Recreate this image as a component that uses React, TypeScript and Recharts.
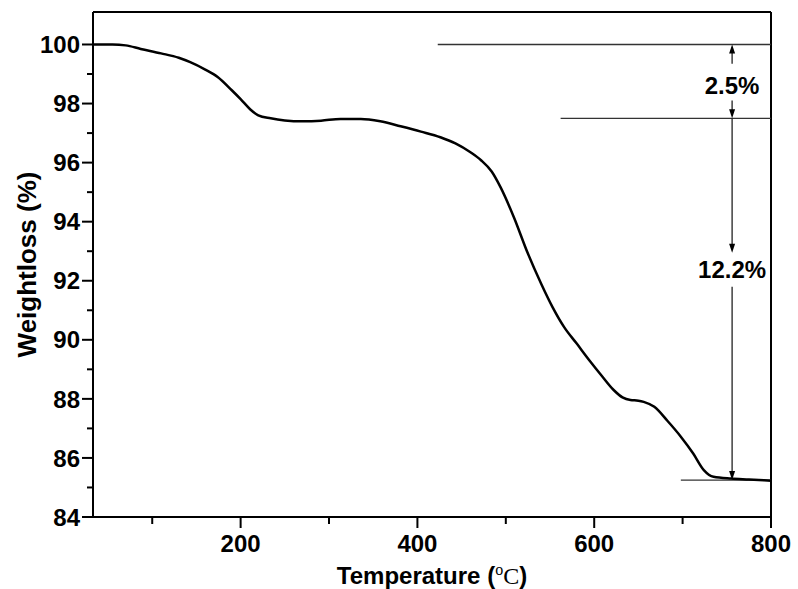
import React from "react";
import {
  LineChart,
  Line,
  XAxis,
  YAxis,
  ReferenceLine,
  ReferenceDot,
} from "recharts";

// TGA curve
const temperature = [
  34, 55, 70, 87, 110, 130, 143, 160, 174, 190, 200, 211, 220, 234, 250, 270,
  291, 313, 336, 358, 381, 404, 426, 443, 460, 472, 484, 494, 509, 525, 540,
  553, 566, 580, 596, 608, 622, 632, 641, 650, 656, 668, 683, 698, 712, 724,
  735, 755, 775, 800,
];
const weightloss = [
  100.0, 100.0, 99.97, 99.85, 99.7, 99.55, 99.4, 99.15, 98.9, 98.45, 98.15,
  97.8, 97.6, 97.5, 97.43, 97.4, 97.42, 97.48, 97.48, 97.4, 97.23, 97.05,
  96.86, 96.65, 96.35, 96.08, 95.7, 95.17, 94.16, 92.92, 91.9, 91.1, 90.43,
  89.88, 89.25, 88.8, 88.3, 88.05, 87.96, 87.94, 87.9, 87.73, 87.25, 86.72,
  86.15, 85.59, 85.36, 85.3, 85.27, 85.23,
];

const xTicks = [100, 200, 300, 400, 500, 600, 700, 800];
const yTicks = [84, 85, 86, 87, 88, 89, 90, 91, 92, 93, 94, 95, 96, 97, 98, 99, 100];

// annotation: step levels, where each guide line starts, and arrow column
const stepLevels = [100, 97.5, 85.25];
const stepLineStart = [423, 562, 698];
const arrowX = 756;
const arrowSegments = [
  [99.35, 100],
  [98.1, 97.5],
  [97.5, 92.95],
  [91.8, 85.25],
];
const stepLabels = ["2.5%", "12.2%"];
const stepLabelY = [98.6, 92.4];

const data = temperature.map((t, i) => ({ t, w: weightloss[i] }));

const FONT = "'Liberation Sans', Arial, sans-serif";

const XTick = (props: any) => {
  const { x, y, payload } = props;
  const major = payload.value % 200 === 0;
  return (
    <g>
      <line x1={x} y1={y} x2={x} y2={y + (major ? 11 : 7)} stroke="#000" strokeWidth={2} />
      {major && (
        <text x={x} y={y + 35} textAnchor="middle" fontFamily={FONT} fontWeight="bold" fontSize={24} fill="#000">
          {payload.value}
        </text>
      )}
    </g>
  );
};

const YTick = (props: any) => {
  const { x, y, payload } = props;
  const major = payload.value % 2 === 0;
  return (
    <g>
      <line x1={x} y1={y} x2={x - (major ? 11 : 6)} y2={y} stroke="#000" strokeWidth={2} />
      {major && (
        <text x={x - 13} y={y} dy="0.36em" textAnchor="end" fontFamily={FONT} fontWeight="bold" fontSize={24} fill="#000">
          {payload.value}
        </text>
      )}
    </g>
  );
};

const Arrow = (props: any) => {
  const { x1, y1, x2, y2 } = props;
  const dir = y2 > y1 ? 1 : -1;
  return (
    <g>
      <line x1={x1} y1={y1} x2={x2} y2={y2 - dir * 6} stroke="#222" strokeWidth={1.3} />
      <polygon
        points={`${x2},${y2} ${x2 - 3},${y2 - dir * 9} ${x2 + 3},${y2 - dir * 9}`}
        fill="#000"
      />
    </g>
  );
};

export default function App() {
  return (
    <div style={{ position: "absolute", left: 0, top: 0, background: "#fff" }}>
      <LineChart width={798} height={589} data={data} margin={{ top: 12, right: 27, left: 0, bottom: 0 }}>
        <XAxis
          dataKey="t"
          type="number"
          domain={[33, 800]}
          allowDataOverflow
          ticks={xTicks}
          tickLine={false}
          tickSize={0}
          tickMargin={0}
          tick={<XTick />}
          interval={0}
          height={72}
          axisLine={{ stroke: "#000", strokeWidth: 2 }}
          label={{
            position: "insideBottom",
            content: (p: any) => {
              const vb = p.viewBox;
              return (
                <text
                  x={vb.x + vb.width / 2}
                  y={vb.y + 67}
                  textAnchor="middle"
                  fontFamily={FONT}
                  fontWeight="bold"
                  fontSize={24}
                  fill="#000"
                >
                  Temperature (
                  <tspan fontFamily="'Liberation Serif', 'Times New Roman', serif" fontWeight="normal" fontSize={16} dy={-9}>
                    o
                  </tspan>
                  <tspan fontFamily="'Liberation Serif', 'Times New Roman', serif" fontWeight="normal" dy={9}>
                    C
                  </tspan>
                  )
                </text>
              );
            },
          }}
        />
        <YAxis
          type="number"
          domain={[84, 101.1]}
          allowDataOverflow
          ticks={yTicks}
          tickLine={false}
          tickSize={0}
          tickMargin={0}
          tick={<YTick />}
          interval={0}
          width={93}
          axisLine={{ stroke: "#000", strokeWidth: 2 }}
          label={{
            position: "insideLeft",
            content: (p: any) => {
              const vb = p.viewBox;
              const cy = vb.y + vb.height / 2;
              return (
                <text
                  x={36}
                  y={cy}
                  transform={`rotate(-90 36 ${cy})`}
                  textAnchor="middle"
                  fontFamily={FONT}
                  fontWeight="bold"
                  fontSize={26}
                  fill="#000"
                >
                  Weightloss (%)
                </text>
              );
            },
          }}
        />
        {/* frame top/right */}
        <ReferenceLine y={101.1} stroke="#000" strokeWidth={2} />
        <ReferenceLine x={800} stroke="#000" strokeWidth={2} />

        {stepLevels.map((lv, i) => (
          <ReferenceLine
            key={"lv" + i}
            segment={[
              { x: stepLineStart[i], y: lv },
              { x: 800, y: lv },
            ]}
            stroke="#333"
            strokeWidth={1.3}
          />
        ))}
        {arrowSegments.map((s, i) => (
          <ReferenceLine
            key={"ar" + i}
            segment={[
              { x: arrowX, y: s[0] },
              { x: arrowX, y: s[1] },
            ]}
            shape={<Arrow />}
          />
        ))}
        {stepLabels.map((txt, i) => (
          <ReferenceDot
            key={"lb" + i}
            x={arrowX}
            y={stepLabelY[i]}
            r={0}
            shape={(p: any) => (
              <text
                x={p.cx}
                y={p.cy}
                dy="0.36em"
                textAnchor="middle"
                fontFamily={FONT}
                fontWeight="bold"
                fontSize={24}
                fill="#000"
              >
                {txt}
              </text>
            )}
          />
        ))}

        <Line
          type="monotone"
          dataKey="w"
          stroke="#000"
          strokeWidth={2.5}
          dot={false}
          isAnimationActive={false}
        />
      </LineChart>
    </div>
  );
}
